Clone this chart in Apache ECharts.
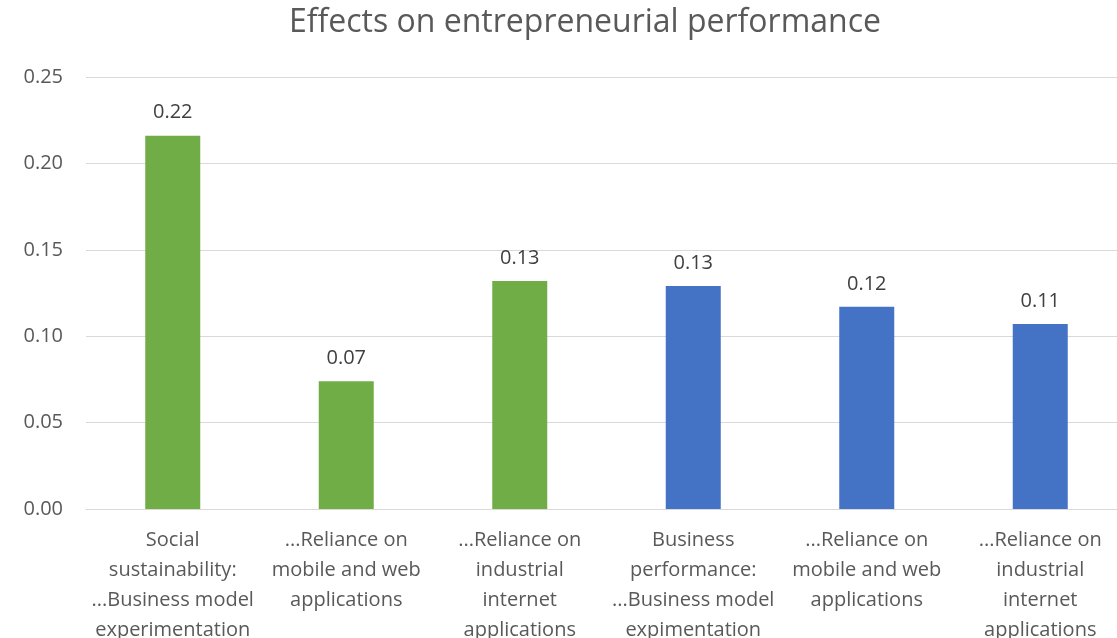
<!DOCTYPE html>
<html>
<head>
<meta charset="utf-8">
<script src="https://cdn.jsdelivr.net/npm/echarts@6/dist/echarts.min.js"></script>
<style>
html,body{margin:0;padding:0;background:#fff;}
#chart{width:1117px;height:638px;}
</style>
</head>
<body>
<div id="chart"></div>
<script>
const title = "Effects on entrepreneurial performance";
const categories = [
  "Social\nsustainability:\n...Business model\nexperimentation",
  "...Reliance on\nmobile and web\napplications",
  "...Reliance on\nindustrial\ninternet\napplications",
  "Business\nperformance:\n...Business model\nexpimentation",
  "...Reliance on\nmobile and web\napplications",
  "...Reliance on\nindustrial\ninternet\napplications"
];
const values = [0.216, 0.074, 0.132, 0.129, 0.117, 0.107];
const groups = ["social", "social", "social", "business", "business", "business"];
const groupColors = { social: "#70AD47", business: "#4472C4" };
const yTicks = { min: 0, max: 0.25, interval: 0.05 };

const FONT = "'Open Sans', 'Noto Sans', sans-serif";
const chart = echarts.init(document.getElementById('chart'), null, { renderer: 'canvas' });
chart.setOption({
  animation: false,
  backgroundColor: '#ffffff',
  title: {
    text: title,
    left: 580,
    top: 2,
    textAlign: 'center',
    textStyle: { fontFamily: FONT, fontSize: 32, fontWeight: 'normal', color: '#595959' }
  },
  grid: { left: 86, top: 77, width: 1041, height: 432, containLabel: false, outerBoundsMode: 'none' },
  xAxis: {
    type: 'category',
    data: categories,
    axisLine: { show: true, lineStyle: { color: '#d9d9d9', width: 1 } },
    axisTick: { show: false },
    axisLabel: {
      interval: 0,
      margin: 16,
      fontFamily: FONT,
      fontSize: 20,
      lineHeight: 30,
      color: '#595959',
      align: 'center'
    }
  },
  yAxis: {
    type: 'value',
    min: yTicks.min,
    max: yTicks.max,
    interval: yTicks.interval,
    axisLine: { show: false },
    axisTick: { show: false },
    splitLine: { lineStyle: { color: '#d9d9d9', width: 1 } },
    axisLabel: {
      margin: 23,
      fontFamily: FONT,
      fontSize: 20,
      color: '#595959',
      formatter: v => v.toFixed(2)
    }
  },
  series: [{
    type: 'bar',
    barWidth: 55,
    data: values.map((v, i) => ({ value: v, itemStyle: { color: groupColors[groups[i]] } })),
    label: {
      show: true,
      position: 'top',
      distance: 13,
      fontFamily: FONT,
      fontSize: 20,
      color: '#404040',
      formatter: p => p.value.toFixed(2)
    }
  }]
});
</script>
</body>
</html>
